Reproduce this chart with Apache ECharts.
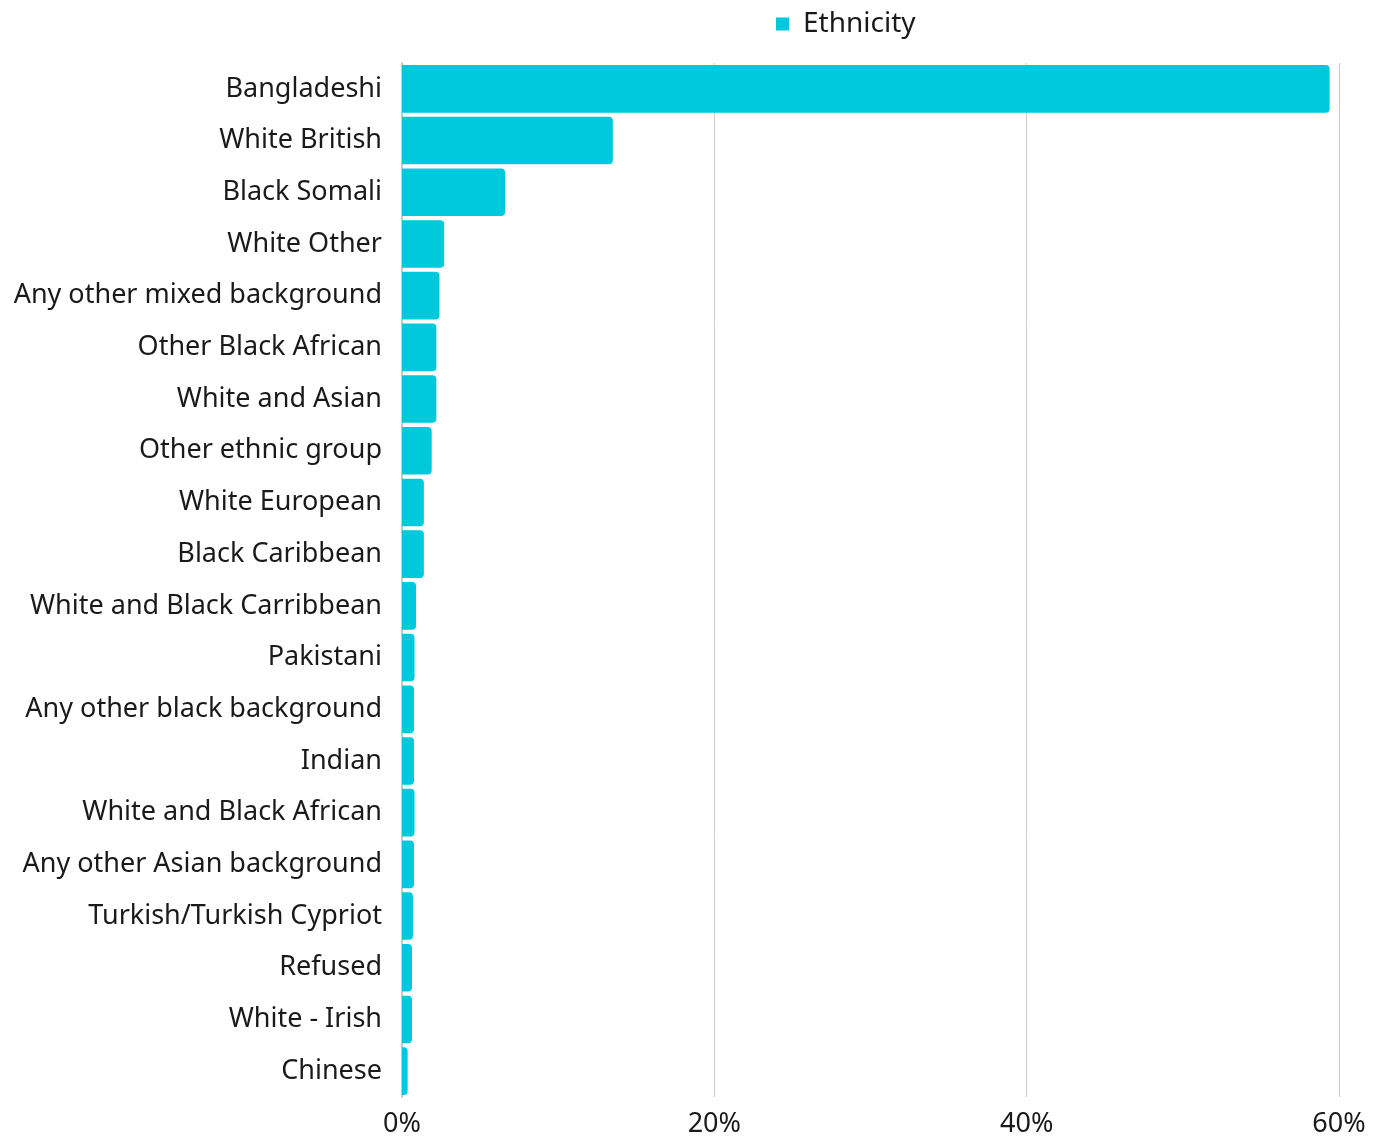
<!DOCTYPE html>
<html>
<head>
<meta charset="utf-8">
<script src="https://cdn.jsdelivr.net/npm/echarts@6/dist/echarts.min.js"></script>
<style>
html,body{margin:0;padding:0;background:#fff;}
#chart{width:1385px;height:1137px;}
</style>
</head>
<body>
<div id="chart"></div>
<script>
const categories = [
  "Bangladeshi","White British","Black Somali","White Other","Any other mixed background",
  "Other Black African","White and Asian","Other ethnic group","White European","Black Caribbean",
  "White and Black Carribbean","Pakistani","Any other black background","Indian","White and Black African",
  "Any other Asian background","Turkish/Turkish Cypriot","Refused","White - Irish","Chinese"
];
const ethnicity = [59.4,13.5,6.6,2.7,2.4,2.2,2.2,1.9,1.4,1.4,0.9,0.8,0.77,0.77,0.8,0.77,0.7,0.64,0.64,0.36];
const xTicks = [0,20,40,60];

const FONT = '"Noto Sans", sans-serif';
const chart = echarts.init(document.getElementById('chart'));
chart.setOption({
  animation:false,
  legend:{
    top:5, left:771,
    itemWidth:13, itemHeight:13,
    icon:'rect',
    textStyle:{fontFamily:FONT,fontSize:28,color:'#1a1a1a',padding:[0,0,0,9]},
    data:['Ethnicity']
  },
  grid:{left:402,right:46,top:63,bottom:40,containLabel:false,outerBoundsMode:'none'},
  xAxis:{
    type:'value', min:0, max:60, interval:20,
    axisLine:{show:false}, axisTick:{show:false},
    splitLine:{show:true,lineStyle:{color:'#cccccc',width:1}},
    axisLabel:{fontFamily:FONT,fontSize:27,color:'#1a1a1a',margin:14,
      formatter:v=>xTicks.includes(v)?v+'%':''}
  },
  yAxis:{
    type:'category', data:categories, inverse:true,
    axisLine:{show:true,lineStyle:{color:'#cfc7c7',width:2}},
    axisTick:{show:false},
    axisLabel:{fontFamily:FONT,fontSize:27,color:'#1a1a1a',margin:20}
  },
  series:[{
    name:'Ethnicity', type:'bar', data:ethnicity,
    barCategoryGap:'8%',
    itemStyle:{color:'#00C9DB',borderRadius:[0,4,4,0]}
  }]
});
</script>
</body>
</html>
